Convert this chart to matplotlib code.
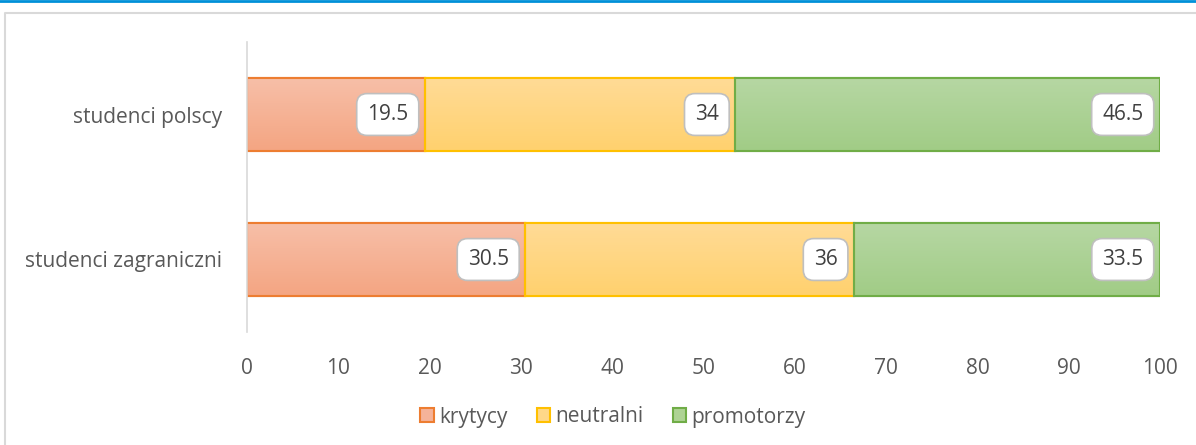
import matplotlib
matplotlib.use("Agg")
import matplotlib.pyplot as plt
import numpy as np
from matplotlib.patches import Rectangle
from matplotlib.lines import Line2D
from matplotlib.colors import to_rgb

categories = ["studenci zagraniczni", "studenci polscy"]
krytycy = [30.5, 19.5]
neutralni = [36, 34]
promotorzy = [33.5, 46.5]
series_names = ["krytycy", "neutralni", "promotorzy"]
xticks = [0, 10, 20, 30, 40, 50, 60, 70, 80, 90, 100]

tops = ["#F7BFA8", "#FFDB96", "#B6D7A3"]
bottoms = ["#F4A582", "#FFD16E", "#A1CC86"]
fills = ["#F5B39A", "#FFD888", "#AED394"]
edges = ["#ED7D31", "#FFC000", "#70AD47"]

plt.rcParams['font.family'] = ['Open Sans', 'DejaVu Sans']

fig = plt.figure(figsize=(11.96, 4.45), dpi=100)
W, H = 1196, 445
ax = fig.add_axes([247 / W, 1 - 332 / H, (1160 - 247) / W, (332 - 42) / H])

y = list(range(len(categories)))
left = [0] * len(categories)
for name, vals, fc, ec, tc, bc in zip(series_names, [krytycy, neutralni, promotorzy], fills, edges, tops, bottoms):
    bars = ax.barh(y, vals, left=left, height=0.5, color=fc, edgecolor=ec, linewidth=1.5, label=name, zorder=2)
    grad = np.linspace(0, 1, 64)[:, None, None]
    img = np.array(to_rgb(bc))[None, None, :] * (1 - grad) + np.array(to_rgb(tc))[None, None, :] * grad
    for b in bars:
        x0, y0 = b.get_x(), b.get_y()
        im = ax.imshow(img, extent=(x0, x0 + b.get_width(), y0, y0 + b.get_height()), origin="lower",
                       aspect="auto", zorder=2.1, interpolation="bilinear")
        im.set_clip_path(b)
        edge = Rectangle((x0, y0), b.get_width(), b.get_height(), fill=False, ec=ec, lw=1.5, zorder=2.2)
        ax.add_patch(edge)
    for yi, l, v in zip(y, left, vals):
        ax.annotate(f"{v:g}", xy=(l + v, yi), xytext=(-12, 0), textcoords="offset points",
                    ha="right", va="center", fontsize=15, color="#404040", zorder=5,
                    bbox=dict(boxstyle="round,pad=0.5,rounding_size=0.5", fc="white", ec="#BFBFBF", lw=1.2))
    left = [a + b for a, b in zip(left, vals)]

ax.set_xlim(0, 100)
ax.set_ylim(-0.5, 1.5)
ax.set_xticks(xticks)
ax.set_yticks(y)
ax.set_yticklabels(categories)
ax.tick_params(axis="both", length=0, labelsize=15, colors="#595959")
ax.tick_params(axis="x", pad=19)
ax.tick_params(axis="y", pad=18)
for s in ["top", "right", "bottom"]:
    ax.spines[s].set_visible(False)
ax.spines["left"].set_color("#D9D9D9")
ax.spines["left"].set_linewidth(1.2)

handles = [Rectangle((0, 0), 1, 1, fc=fc, ec=ec, lw=1.5) for fc, ec in zip(fills, edges)]
leg = fig.legend(handles, series_names, loc="center", bbox_to_anchor=(613 / W, 1 - 417 / H), ncol=3,
                 frameon=False, fontsize=15, handlelength=0.65, handleheight=0.65, handletextpad=0.25,
                 columnspacing=1.4, labelcolor="#595959")

# outer decoration
fig.add_artist(Line2D([0, 1], [1 - 1 / H, 1 - 1 / H], color="#0090D8", lw=2, transform=fig.transFigure))
fig.add_artist(Line2D([5 / W, 5 / W, 1.01], [0, 1 - 13 / H, 1 - 13 / H], color="#D9D9D9", lw=1.5,
                      transform=fig.transFigure))

fig.savefig("out.png", dpi=100)
